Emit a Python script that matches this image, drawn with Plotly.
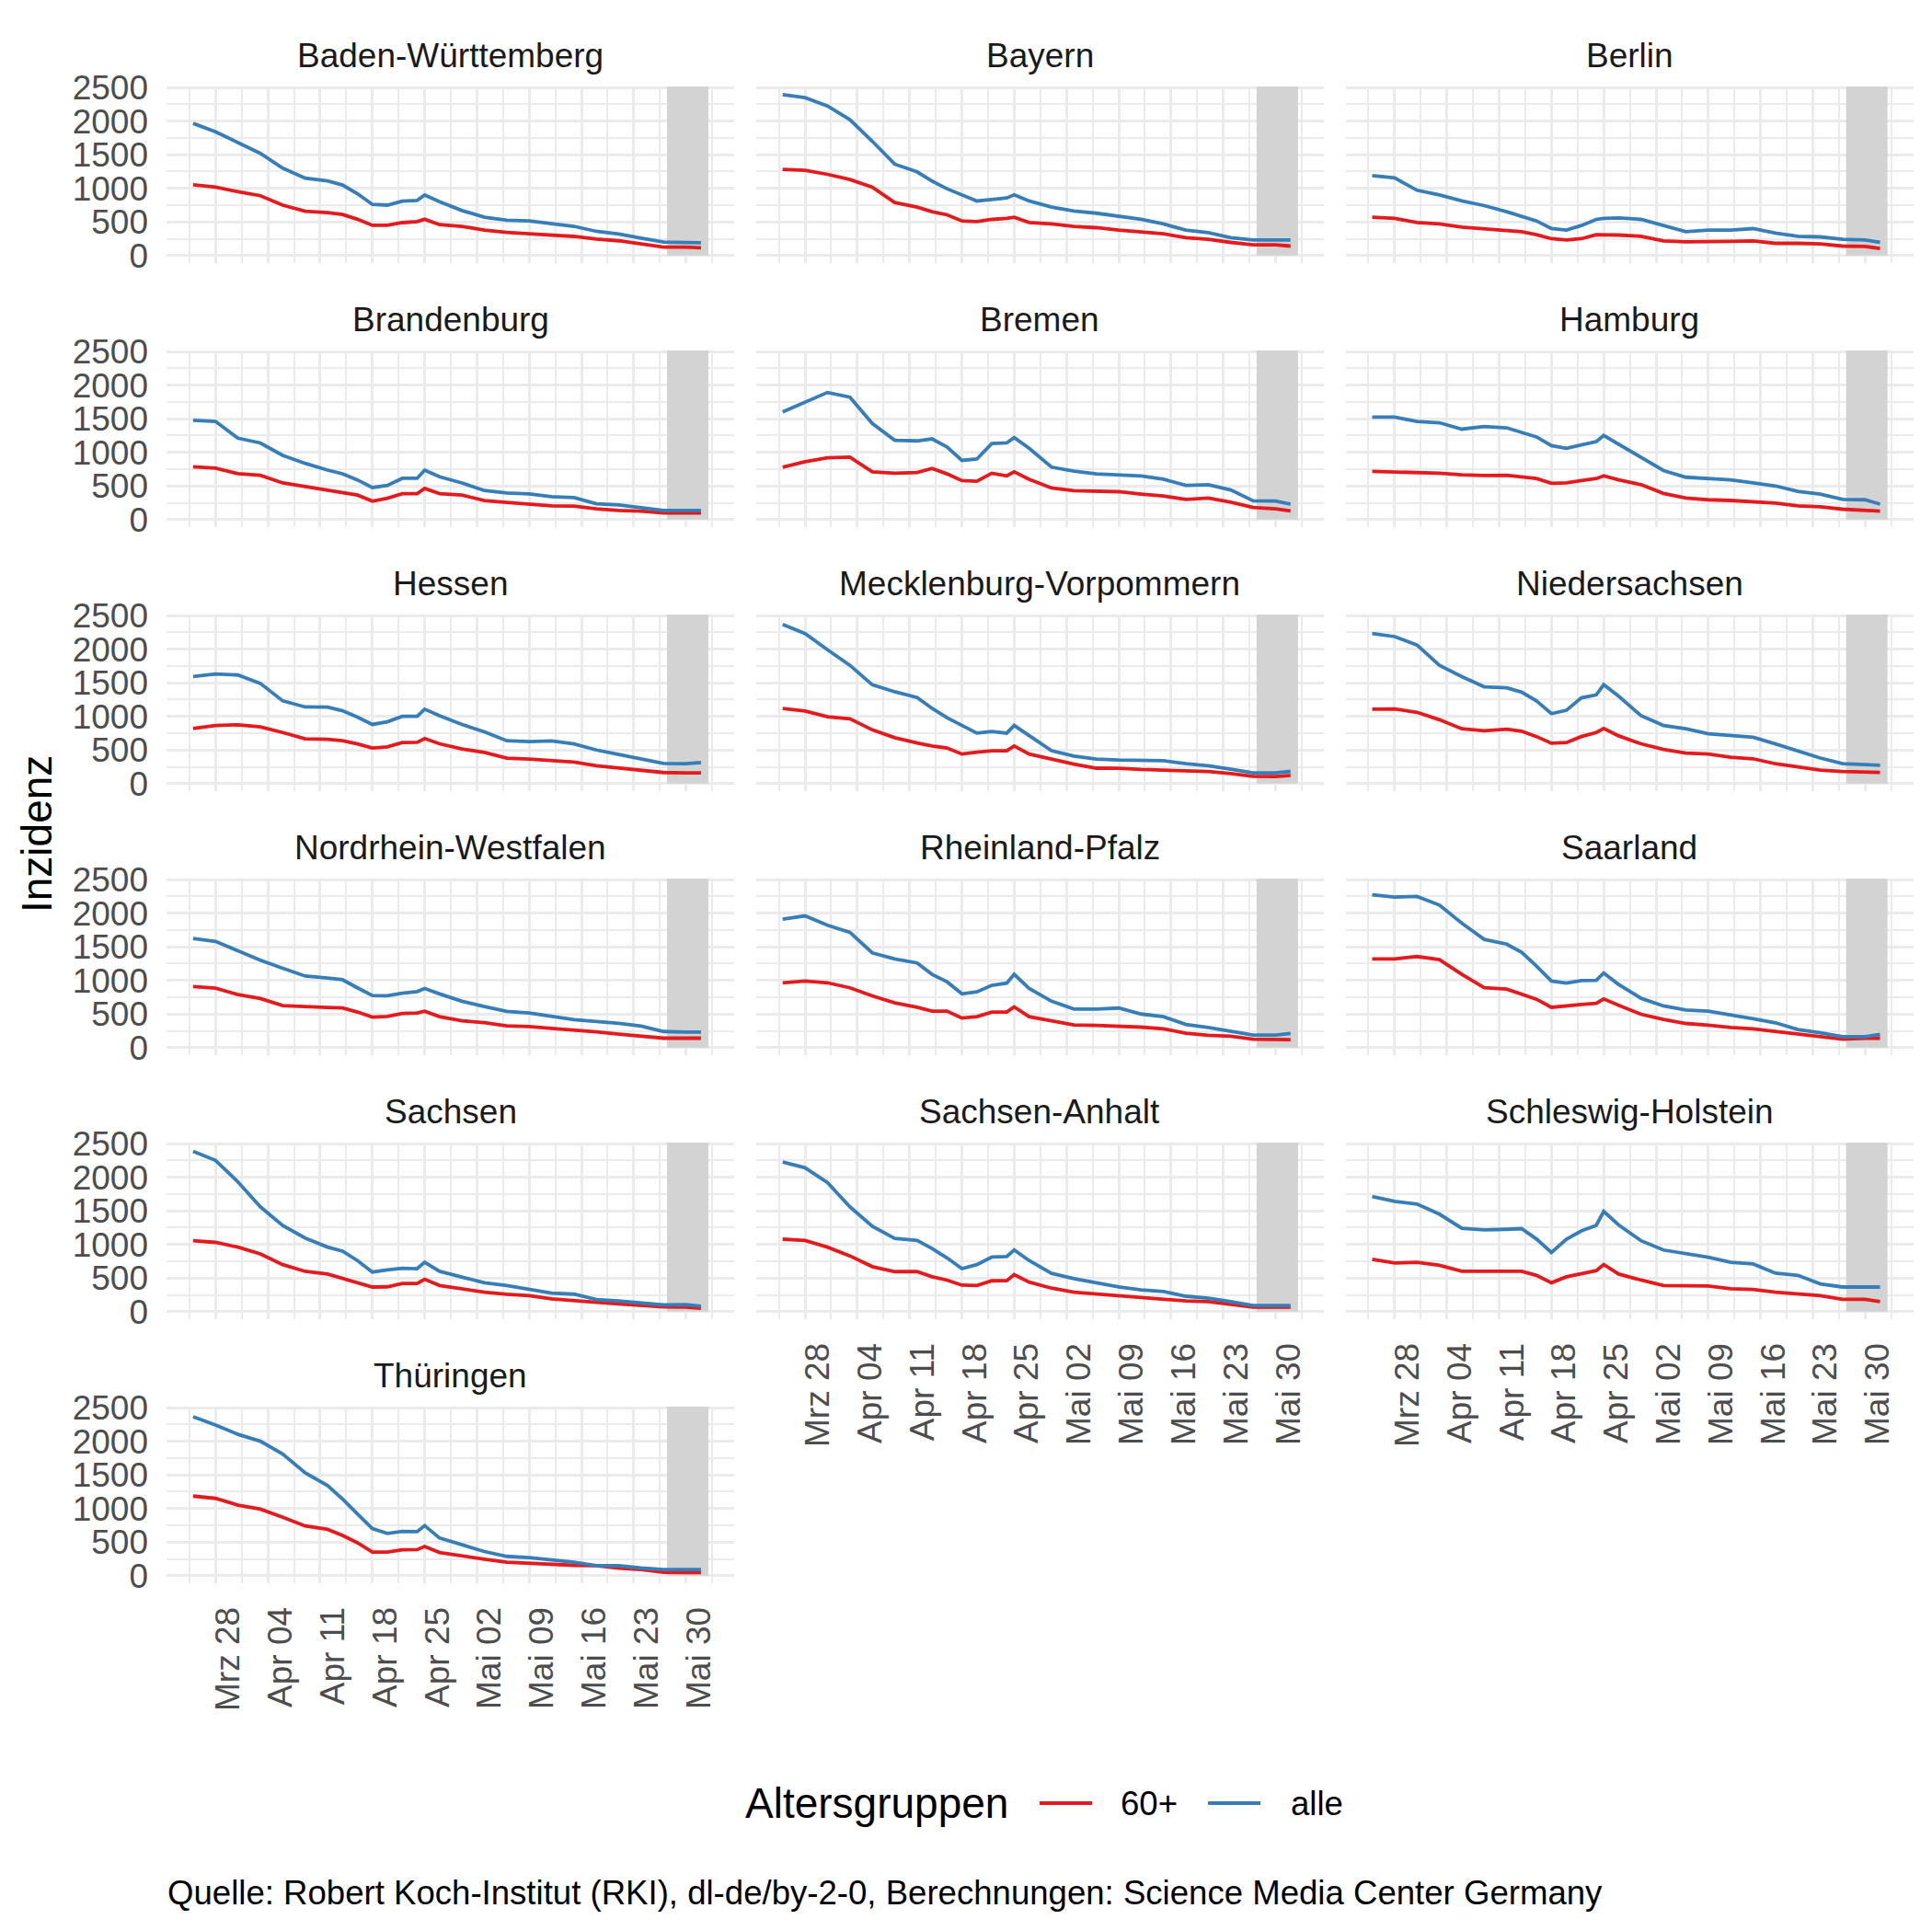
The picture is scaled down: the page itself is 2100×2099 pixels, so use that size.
import plotly.graph_objects as go

# ---------------- data ----------------
dates = ["2022-03-25", "2022-03-28", "2022-03-31", "2022-04-03", "2022-04-06", "2022-04-09",
         "2022-04-12", "2022-04-14", "2022-04-16", "2022-04-18", "2022-04-20", "2022-04-22",
         "2022-04-24", "2022-04-25", "2022-04-27", "2022-04-30", "2022-05-03", "2022-05-06",
         "2022-05-09", "2022-05-12", "2022-05-15", "2022-05-18", "2022-05-21", "2022-05-24",
         "2022-05-27", "2022-05-30", "2022-06-01"]

tick_dates = ["2022-03-28", "2022-04-04", "2022-04-11", "2022-04-18", "2022-04-25",
              "2022-05-02", "2022-05-09", "2022-05-16", "2022-05-23", "2022-05-30"]
tick_labels = ["Mrz 28", "Apr 04", "Apr 11", "Apr 18", "Apr 25",
               "Mai 02", "Mai 09", "Mai 16", "Mai 23", "Mai 30"]
y_ticks = [0, 500, 1000, 1500, 2000, 2500]
y_tick_labels = ["0", "500", "1000", "1500", "2000", "2500"]

states = ["Baden-Württemberg", "Bayern", "Berlin", "Brandenburg", "Bremen", "Hamburg",
          "Hessen", "Mecklenburg-Vorpommern", "Niedersachsen", "Nordrhein-Westfalen",
          "Rheinland-Pfalz", "Saarland", "Sachsen", "Sachsen-Anhalt", "Schleswig-Holstein",
          "Thüringen"]
group_labels = ["60+", "alle"]

bw_60 = [1053, 1017, 950, 890, 750, 660, 640, 610, 540, 450, 450, 490, 505, 540, 460, 435, 380, 345, 325, 300, 285, 245, 220, 175, 125, 125, 115]
bw_alle = [1965, 1840, 1680, 1520, 1300, 1150, 1110, 1050, 920, 760, 750, 810, 820, 900, 800, 670, 570, 525, 515, 470, 435, 360, 320, 260, 200, 195, 190]
by_60 = [1281, 1268, 1208, 1131, 1017, 789, 720, 652, 606, 515, 506, 538, 552, 570, 492, 470, 433, 415, 378, 356, 324, 265, 242, 196, 160, 160, 141]
by_alle = [2394, 2348, 2225, 2020, 1700, 1359, 1245, 1108, 994, 903, 812, 834, 857, 903, 812, 720, 661, 630, 584, 538, 470, 378, 342, 265, 233, 233, 233]
be_60 = [570, 552, 492, 470, 424, 401, 378, 356, 310, 251, 233, 251, 310, 310, 305, 287, 219, 205, 205, 210, 219, 182, 182, 173, 141, 137, 105]
be_alle = [1190, 1154, 971, 903, 812, 743, 652, 584, 515, 401, 378, 447, 538, 552, 561, 538, 447, 356, 378, 378, 401, 333, 287, 278, 242, 233, 196]
bb_60 = [786, 764, 682, 659, 545, 491, 432, 400, 364, 273, 318, 386, 386, 464, 386, 364, 282, 255, 236, 205, 200, 159, 136, 127, 100, 100, 100]
bb_alle = [1477, 1460, 1210, 1140, 955, 836, 736, 682, 590, 477, 509, 614, 614, 736, 636, 545, 432, 395, 382, 341, 327, 236, 218, 182, 136, 136, 136]
hb_60 = [780, 860, 920, 930, 710, 690, 700, 760, 680, 580, 570, 690, 650, 710, 600, 470, 430, 425, 415, 380, 350, 300, 320, 260, 180, 160, 130]
hb_alle = [1600, 1750, 1890, 1820, 1430, 1180, 1170, 1200, 1080, 880, 900, 1130, 1140, 1220, 1060, 780, 720, 680, 670, 650, 600, 510, 520, 440, 280, 275, 230]
hh_60 = [718, 705, 705, 690, 665, 655, 659, 640, 610, 540, 545, 580, 610, 650, 590, 520, 390, 320, 295, 285, 270, 245, 205, 190, 155, 145, 127]
hh_alle = [1523, 1523, 1460, 1440, 1345, 1385, 1365, 1300, 1230, 1100, 1060, 1110, 1160, 1250, 1120, 930, 730, 630, 610, 590, 545, 500, 420, 380, 300, 295, 230]
he_60 = [820, 865, 875, 845, 760, 665, 660, 640, 590, 530, 546, 610, 615, 670, 592, 515, 465, 378, 364, 342, 320, 265, 235, 200, 165, 160, 160]
he_alle = [1594, 1630, 1615, 1490, 1230, 1140, 1139, 1084, 988, 880, 920, 1000, 1000, 1107, 1010, 880, 770, 638, 624, 635, 590, 500, 433, 365, 300, 296, 315]
mv_60 = [1116, 1080, 995, 965, 800, 683, 605, 560, 530, 440, 469, 487, 487, 560, 440, 360, 290, 230, 228, 210, 200, 190, 180, 150, 110, 105, 123]
mv_alle = [2368, 2230, 1990, 1760, 1470, 1366, 1280, 1120, 980, 865, 751, 774, 751, 865, 710, 490, 410, 364, 351, 351, 340, 296, 265, 214, 159, 160, 182]
ni_60 = [1107, 1110, 1060, 950, 815, 785, 810, 780, 700, 600, 610, 700, 760, 820, 710, 592, 510, 455, 440, 392, 370, 295, 250, 200, 180, 175, 168]
ni_alle = [2231, 2186, 2060, 1760, 1590, 1440, 1425, 1360, 1230, 1040, 1090, 1275, 1320, 1471, 1300, 1010, 865, 815, 740, 715, 690, 590, 480, 380, 296, 285, 273]
nw_60 = [908, 885, 789, 730, 625, 606, 598, 590, 530, 455, 465, 510, 516, 543, 461, 400, 372, 324, 315, 285, 265, 235, 200, 175, 141, 141, 141]
nw_alle = [1624, 1580, 1440, 1300, 1180, 1065, 1035, 1010, 890, 775, 771, 810, 835, 880, 800, 690, 610, 540, 516, 470, 415, 390, 362, 320, 240, 233, 233]
rp_60 = [963, 990, 965, 890, 770, 666, 600, 543, 543, 440, 461, 529, 529, 607, 461, 400, 338, 330, 320, 305, 280, 215, 185, 170, 125, 119, 119]
rp_alle = [1911, 1960, 1820, 1715, 1410, 1320, 1260, 1090, 980, 800, 830, 926, 960, 1090, 880, 690, 575, 575, 589, 500, 460, 345, 300, 240, 187, 187, 210]
sl_60 = [1318, 1320, 1355, 1310, 1090, 890, 870, 800, 720, 600, 615, 643, 660, 725, 630, 497, 420, 360, 335, 300, 280, 240, 200, 168, 125, 141, 141]
sl_alle = [2272, 2240, 2249, 2120, 1850, 1610, 1540, 1419, 1214, 990, 960, 999, 1000, 1109, 940, 734, 620, 560, 543, 480, 430, 370, 270, 220, 164, 164, 196]
sn_60 = [1055, 1030, 960, 860, 700, 600, 560, 500, 440, 367, 370, 420, 420, 482, 390, 340, 290, 258, 240, 190, 170, 140, 117, 95, 72, 69, 50]
sn_alle = [2385, 2250, 1930, 1560, 1280, 1095, 960, 900, 760, 590, 620, 645, 640, 734, 600, 520, 430, 390, 330, 275, 261, 180, 160, 125, 100, 105, 80]
st_60 = [1078, 1060, 960, 830, 670, 596, 596, 520, 470, 395, 390, 459, 460, 550, 440, 350, 289, 265, 235, 210, 185, 160, 150, 115, 69, 69, 69]
st_alle = [2225, 2140, 1920, 1560, 1270, 1090, 1060, 940, 800, 640, 700, 812, 820, 917, 760, 570, 491, 430, 367, 325, 300, 230, 200, 150, 92, 92, 92]
sh_60 = [780, 725, 734, 690, 600, 596, 596, 600, 540, 430, 518, 570, 610, 702, 560, 470, 390, 385, 381, 340, 330, 290, 260, 240, 183, 183, 151]
sh_alle = [1711, 1640, 1600, 1450, 1240, 1216, 1225, 1235, 1080, 880, 1078, 1200, 1284, 1491, 1290, 1055, 917, 860, 810, 735, 710, 573, 540, 413, 367, 367, 367]
th_60 = [1184, 1150, 1050, 990, 870, 740, 690, 600, 490, 352, 352, 385, 388, 434, 345, 290, 245, 200, 183, 160, 155, 151, 114, 91, 50, 46, 46]
th_alle = [2363, 2240, 2102, 2000, 1810, 1530, 1340, 1142, 920, 700, 630, 660, 655, 745, 560, 455, 360, 288, 270, 235, 200, 151, 151, 114, 91, 91, 91]

series_60 = [bw_60, by_60, be_60, bb_60, hb_60, hh_60, he_60, mv_60, ni_60, nw_60,
             rp_60, sl_60, sn_60, st_60, sh_60, th_60]
series_alle = [bw_alle, by_alle, be_alle, bb_alle, hb_alle, hh_alle, he_alle, mv_alle, ni_alle,
               nw_alle, rp_alle, sl_alle, sn_alle, st_alle, sh_alle, th_alle]

# ---------------- styling / layout ----------------
W, H = 2100, 2099
FONT = "Liberation Sans, Arial, sans-serif"
COL_60 = "#E41A1C"
COL_ALLE = "#377EB8"
GROUP_COLORS = [COL_60, COL_ALLE]
GRID = "#EBEBEB"
SHADE = "#D3D3D3"
X_RANGE = ["2022-03-21 10:30", "2022-06-05 11:30"]
Y_RANGE = [-105, 2514]
SHADE_X = ["2022-05-27 11:00", "2022-06-02 00:00"]
DAY_MS = 86400000
LINE_W = 3.8

panel_w = 617.3
col_gap = 23.5
col_left = [181 + k * (panel_w + col_gap) for k in range(3)]
row_top0, row_step, panel_h = 94, 287, 191.5


def fx(p):
    return p / W


def fy(p):
    return 1 - p / H


fig = go.Figure()
annotations = []
shapes = []
layout_axes = {}
n = len(states)
for i, state in enumerate(states):
    r, c = divmod(i, 3)
    sfx = "" if i == 0 else str(i + 1)
    xref, yref = "x" + sfx, "y" + sfx
    left = col_left[c]
    top = row_top0 + r * row_step
    bottom_panel = (i + 3 >= n)

    for g, vals in enumerate([series_60[i], series_alle[i]]):
        fig.add_trace(go.Scatter(
            x=dates, y=vals, mode="lines", xaxis=xref, yaxis=yref,
            line=dict(color=GROUP_COLORS[g], width=LINE_W),
            name=group_labels[g], legendgroup=group_labels[g], showlegend=False,
        ))

    layout_axes["xaxis" + sfx] = dict(
        domain=[fx(left), fx(left + panel_w)], anchor=yref, type="date",
        range=X_RANGE, tickmode="array", tickvals=tick_dates, ticktext=tick_labels,
        showticklabels=bottom_panel, tickangle=-90,
        tickfont=dict(family=FONT, size=37, color="#4D4D4D"),
        ticklabelshift=14, ticklabelstandoff=18,
        showgrid=True, gridcolor=GRID, gridwidth=3.2,
        minor=dict(tickmode="linear", tick0="2022-03-28", dtick=3.5 * DAY_MS,
                   showgrid=True, gridcolor=GRID, gridwidth=1.8),
        zeroline=False, showline=False, ticks="", automargin=False, fixedrange=True,
    )
    layout_axes["yaxis" + sfx] = dict(
        domain=[fy(top + panel_h), fy(top)], anchor=xref,
        range=Y_RANGE, tickmode="array", tickvals=y_ticks, ticktext=y_tick_labels,
        showticklabels=(c == 0),
        tickfont=dict(family=FONT, size=37, color="#4D4D4D"),
        ticklabelstandoff=19,
        showgrid=True, gridcolor=GRID, gridwidth=3.2,
        minor=dict(tickmode="linear", tick0=0, dtick=250,
                   showgrid=True, gridcolor=GRID, gridwidth=1.8),
        zeroline=False, showline=False, ticks="", automargin=False, fixedrange=True,
    )
    shapes.append(dict(type="rect", xref=xref, yref=yref,
                       x0=SHADE_X[0], x1=SHADE_X[1], y0=0, y1=Y_RANGE[1],
                       fillcolor=SHADE, line=dict(width=0), layer="between"))
    annotations.append(dict(text=state, x=fx(left + panel_w / 2), y=fy(top - 33.3),
                            xref="paper", yref="paper", xanchor="center", yanchor="middle",
                            showarrow=False,
                            font=dict(family=FONT, size=37, color="#1A1A1A")))

# axis title
annotations.append(dict(text="Inzidenz", x=fx(40), y=fy(907), xref="paper", yref="paper",
                        textangle=-90, showarrow=False, xanchor="center", yanchor="middle",
                        font=dict(family=FONT, size=46, color="black")))

# legend (drawn like ggplot's bottom legend)
legend_y = fy(1960)
annotations.append(dict(text="Altersgruppen", x=fx(808), y=legend_y, xref="paper", yref="paper",
                        xanchor="left", yanchor="middle", showarrow=False,
                        font=dict(family=FONT, size=46, color="black")))
legend_keys = [(1130, 1187, 1216), (1313, 1370, 1401)]
for g, (k0, k1, tx) in enumerate(legend_keys):
    shapes.append(dict(type="line", xref="paper", yref="paper",
                       x0=fx(k0), x1=fx(k1), y0=legend_y, y1=legend_y,
                       line=dict(color=GROUP_COLORS[g], width=LINE_W)))
    annotations.append(dict(text=group_labels[g], x=fx(tx), y=legend_y, xref="paper",
                            yref="paper", xanchor="left", yanchor="middle", showarrow=False,
                            font=dict(family=FONT, size=36.6, color="black")))

# caption
annotations.append(dict(text="Quelle: Robert Koch-Institut (RKI), dl-de/by-2-0, Berechnungen: Science Media Center Germany",
                        x=fx(180), y=fy(2057), xref="paper", yref="paper",
                        xanchor="left", yanchor="middle", showarrow=False,
                        font=dict(family=FONT, size=36.6, color="black")))

fig.update_layout(
    width=W, height=H, template="none",
    margin=dict(l=0, r=0, t=0, b=0),
    paper_bgcolor="white", plot_bgcolor="white",
    font=dict(family=FONT, color="black"),
    showlegend=False,
    shapes=shapes, annotations=annotations,
    **layout_axes,
)

fig.write_html("out.html", config={"displayModeBar": False},
               post_script="document.body.style.margin='0px';")
